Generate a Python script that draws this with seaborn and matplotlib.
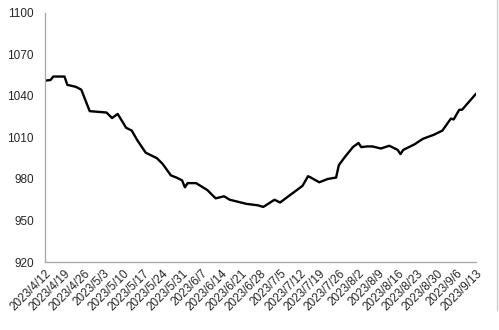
import matplotlib
matplotlib.use("Agg")
import matplotlib.pyplot as plt
import matplotlib.lines as mlines
import seaborn as sns
import pandas as pd

dates = ["2023-04-12", "2023-04-14", "2023-04-15", "2023-04-19", "2023-04-20", "2023-04-23",
         "2023-04-25", "2023-04-28", "2023-05-04", "2023-05-06", "2023-05-08", "2023-05-11",
         "2023-05-13", "2023-05-15", "2023-05-16", "2023-05-18", "2023-05-22", "2023-05-24",
         "2023-05-27", "2023-05-29", "2023-05-31", "2023-06-01", "2023-06-02", "2023-06-05",
         "2023-06-09", "2023-06-12", "2023-06-15", "2023-06-17", "2023-06-21", "2023-06-23",
         "2023-06-27", "2023-06-29", "2023-07-03", "2023-07-05", "2023-07-09", "2023-07-13",
         "2023-07-15", "2023-07-16", "2023-07-19", "2023-07-22", "2023-07-25", "2023-07-26",
         "2023-07-28", "2023-07-31", "2023-08-02", "2023-08-03", "2023-08-05", "2023-08-07",
         "2023-08-10", "2023-08-13", "2023-08-14", "2023-08-16", "2023-08-17", "2023-08-18",
         "2023-08-19", "2023-08-22", "2023-08-25", "2023-08-29", "2023-09-01", "2023-09-04",
         "2023-09-05", "2023-09-07", "2023-09-08", "2023-09-13"]
values = [1051, 1051.5, 1054, 1054, 1048, 1046.6,
          1044.5, 1029, 1028, 1024, 1027, 1017,
          1015, 1008, 1005, 999, 995, 991,
          982.6, 981, 979, 974, 977, 977,
          972, 966, 967.5, 965, 963, 962,
          961, 959.8, 965, 963, 969, 975,
          982, 981, 977.6, 980, 981, 990,
          995.5, 1003, 1006, 1003, 1003.5, 1003.5,
          1002, 1004, 1003, 1001, 998, 1001,
          1002, 1005, 1009, 1012, 1015, 1023.6,
          1023, 1030, 1030, 1041.6]
tick_dates = pd.date_range("2023-04-12", "2023-09-13", freq="7D")
tick_labels = [f"{d.year}/{d.month}/{d.day}" for d in tick_dates]
y_ticks = [920, 950, 980, 1010, 1040, 1070, 1100]

df = pd.DataFrame({"date": pd.to_datetime(dates), "value": values})

sns.set_style("white")
plt.rcParams["font.family"] = ["Liberation Sans", "DejaVu Sans"]

fig = plt.figure(figsize=(4.99, 3.30), dpi=100)
ax = fig.add_axes([0.090, 0.206, 0.864, 0.755])
sns.lineplot(data=df, x="date", y="value", ax=ax, color="black", linewidth=1.7)

ax.set_xlim(tick_dates[0], tick_dates[-1])
ax.set_ylim(920, 1100)
ax.set_yticks(y_ticks)
ax.set_yticklabels([str(v) for v in y_ticks], fontsize=8.5, color="#262626")
ax.set_xticks(tick_dates)
ax.set_xticklabels(tick_labels, rotation=45, ha="right", rotation_mode="anchor",
                   fontsize=8.5, color="#262626")
ax.set_xlabel("")
ax.set_ylabel("")
for s in ["top", "right"]:
    ax.spines[s].set_visible(False)
for s in ["left", "bottom"]:
    ax.spines[s].set_color("#a6a6a6")
    ax.spines[s].set_linewidth(0.9)
ax.tick_params(axis="both", direction="in", length=3, width=0.8, color="#a6a6a6", pad=4)
ax.tick_params(axis="y", pad=8)
ax.grid(False)

# light frame edge at the right of the image
fig.add_artist(mlines.Line2D([0.9955, 0.9955], [0.06, 1.0], transform=fig.transFigure,
                             color="#c8c8c8", linewidth=0.9))

fig.savefig("out.png", dpi=100)
